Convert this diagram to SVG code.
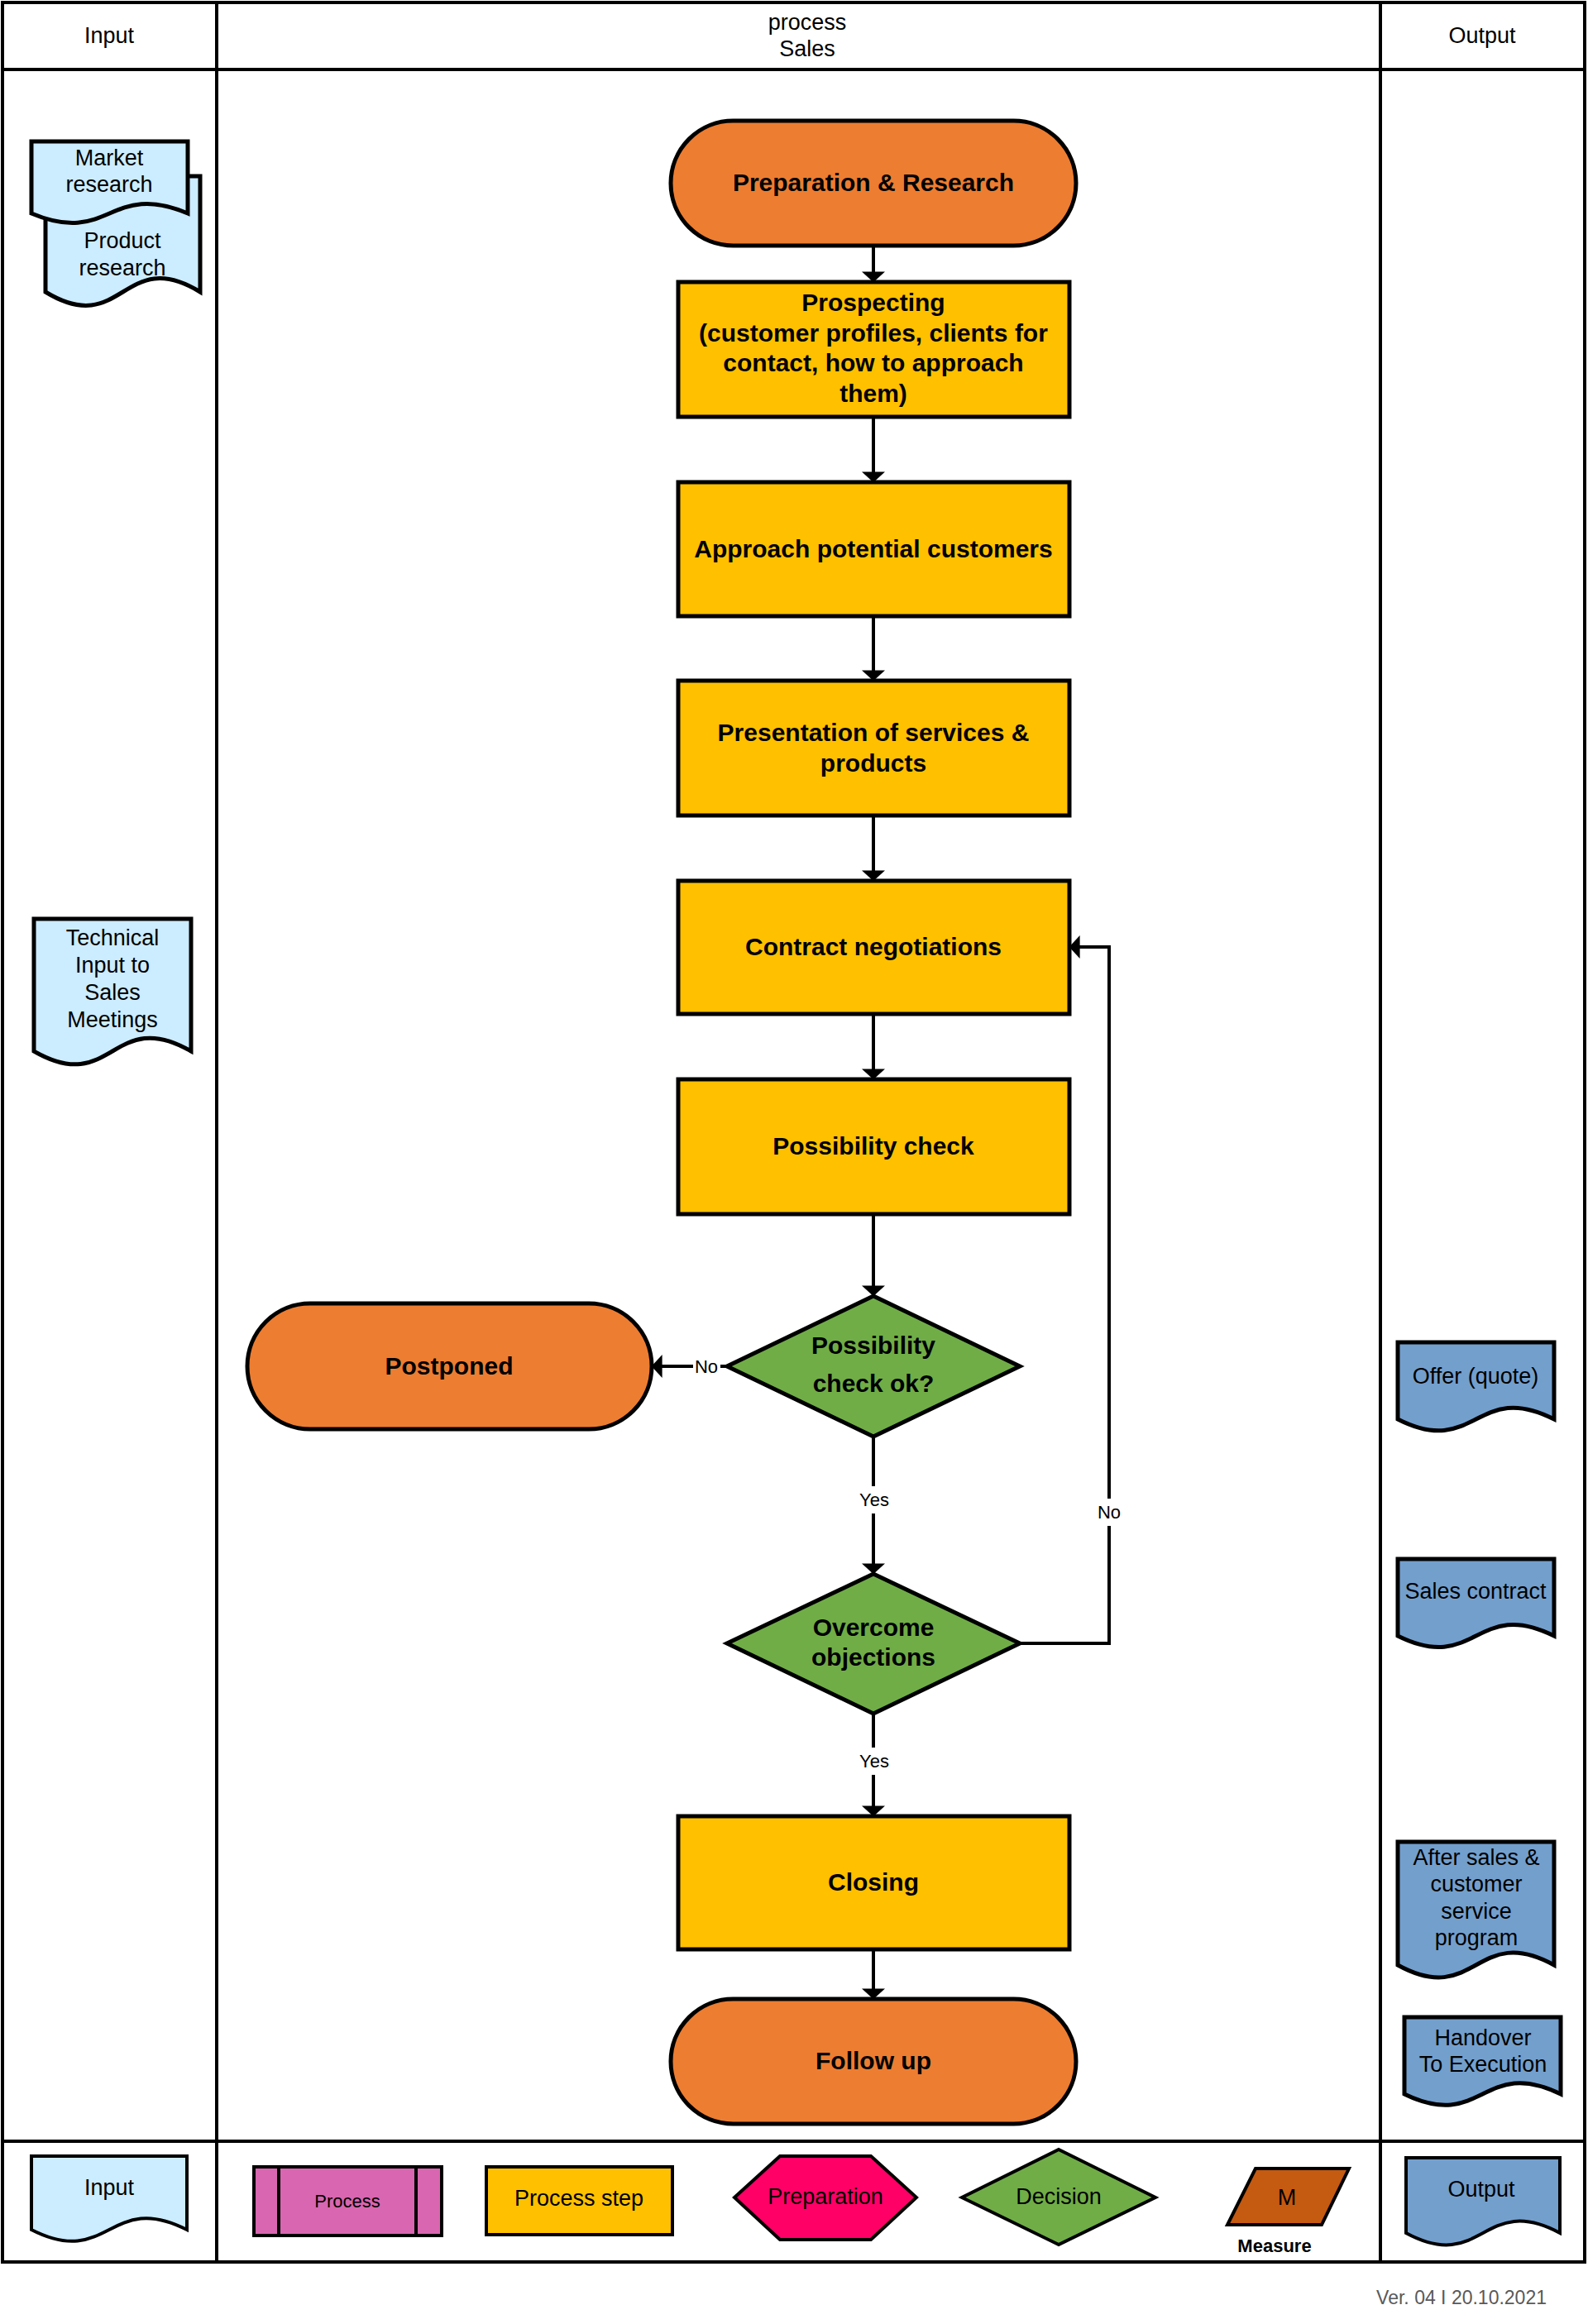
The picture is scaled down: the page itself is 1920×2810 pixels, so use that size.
<svg xmlns="http://www.w3.org/2000/svg" width="1920" height="2810" viewBox="0 0 1920 2810">
<style>
text{font-family:"Liberation Sans",Arial,sans-serif;fill:#000;text-anchor:middle}
.hd{font-size:27px}
.doc{font-size:27px}
.nb{font-size:30px;font-weight:bold}
.lbl{font-size:22px}
.lg{font-size:27px}
.ln{stroke:#000;stroke-width:4;fill:none}
.node{stroke:#000;stroke-width:5}
.lgs{stroke:#000;stroke-width:4}
.orange{fill:#ED7D31}
.yellow{fill:#FFC000}
.green{fill:#70AD47}
.inp{fill:#CCECFF}
.out{fill:#739FCD}
.grid{stroke:#000;stroke-width:4;fill:none}
</style>
<defs>
<marker id="arr" markerUnits="userSpaceOnUse" markerWidth="14" markerHeight="28" viewBox="0 0 12 26" refX="8" refY="13" orient="auto">
<path d="M0,0 L12,13 L0,26 Z" fill="#000"/>
</marker>
</defs>
<rect width="1920" height="2810" fill="#fff"/>
<g id="frame">
<rect class="grid" x="3" y="3" width="1913" height="2732"/>
<line class="grid" x1="262" y1="3" x2="262" y2="2735"/>
<line class="grid" x1="1669" y1="3" x2="1669" y2="2735"/>
<line class="grid" x1="3" y1="84" x2="1916" y2="84"/>
<line class="grid" x1="3" y1="2589" x2="1916" y2="2589"/>
<text class="hd" x="132" y="52">Input</text>
<text class="hd" x="976" y="36">process</text>
<text class="hd" x="976" y="68">Sales</text>
<text class="hd" x="1792" y="52">Output</text>
</g>
<g id="connectors">
<path class="ln" d="M1056,297 V337" marker-end="url(#arr)"/>
<path class="ln" d="M1056,504 V579" marker-end="url(#arr)"/>
<path class="ln" d="M1056,745 V819" marker-end="url(#arr)"/>
<path class="ln" d="M1056,986 V1061" marker-end="url(#arr)"/>
<path class="ln" d="M1056,1226 V1301" marker-end="url(#arr)"/>
<path class="ln" d="M1056,1468 V1563" marker-end="url(#arr)"/>
<path class="ln" d="M879,1652 H792" marker-end="url(#arr)"/>
<path class="ln" d="M1056,1737 V1899" marker-end="url(#arr)"/>
<path class="ln" d="M1233,1987 H1341 V1145 H1297" marker-end="url(#arr)"/>
<path class="ln" d="M1056,2072 V2192" marker-end="url(#arr)"/>
<path class="ln" d="M1056,2357 V2413" marker-end="url(#arr)"/>
<rect x="838" y="1638" width="33" height="28" fill="#fff"/>
<text class="lbl" x="854" y="1660">No</text>
<rect x="1036" y="1797" width="42" height="33" fill="#fff"/>
<text class="lbl" x="1057" y="1821">Yes</text>
<rect x="1325" y="1812" width="32" height="33" fill="#fff"/>
<text class="lbl" x="1341" y="1836">No</text>
<rect x="1036" y="2113" width="42" height="33" fill="#fff"/>
<text class="lbl" x="1057" y="2137">Yes</text>
</g>
<g id="n-prep-research">
<rect class="node orange" x="811" y="146" width="490" height="151" rx="75.5"/>
<text class="nb" x="1056" y="231">Preparation &amp; Research</text>
</g>
<g id="n-prospecting">
<rect class="node yellow" x="820" y="341" width="473" height="163"/>
<text class="nb" x="1056" y="376">Prospecting</text>
<text class="nb" x="1056" y="413">(customer profiles, clients for</text>
<text class="nb" x="1056" y="449">contact, how to approach</text>
<text class="nb" x="1056" y="486">them)</text>
</g>
<g id="n-approach">
<rect class="node yellow" x="820" y="583" width="473" height="162"/>
<text class="nb" x="1056" y="674">Approach potential customers</text>
</g>
<g id="n-presentation">
<rect class="node yellow" x="820" y="823" width="473" height="163"/>
<text class="nb" x="1056" y="896">Presentation of services &amp;</text>
<text class="nb" x="1056" y="933">products</text>
</g>
<g id="n-contract">
<rect class="node yellow" x="820" y="1065" width="473" height="161"/>
<text class="nb" x="1056" y="1155">Contract negotiations</text>
</g>
<g id="n-possibility">
<rect class="node yellow" x="820" y="1305" width="473" height="163"/>
<text class="nb" x="1056" y="1396">Possibility check</text>
</g>
<g id="n-check-ok">
<polygon class="node green" points="1056,1567 1233,1652 1056,1737 879,1652"/>
<text class="nb" x="1056" y="1637">Possibility</text>
<text class="nb" x="1056" y="1683">check ok?</text>
</g>
<g id="n-postponed">
<rect class="node orange" x="299" y="1576" width="489" height="152" rx="76"/>
<text class="nb" x="543" y="1662">Postponed</text>
</g>
<g id="n-overcome">
<polygon class="node green" points="1056,1903 1233,1987 1056,2072 879,1987"/>
<text class="nb" x="1056" y="1978">Overcome</text>
<text class="nb" x="1056" y="2014">objections</text>
</g>
<g id="n-closing">
<rect class="node yellow" x="820" y="2196" width="473" height="161"/>
<text class="nb" x="1056" y="2286">Closing</text>
</g>
<g id="n-followup">
<rect class="node orange" x="811" y="2417" width="490" height="151" rx="75.5"/>
<text class="nb" x="1056" y="2502">Follow up</text>
</g>
<g id="in-product">
<path class="node inp" d="M55,213 H242 V353 C148.5,296 148.5,410 55,353 Z"/>
<text class="doc" x="148" y="300">Product</text>
<text class="doc" x="148" y="333">research</text>
</g>
<g id="in-market">
<path class="node inp" d="M38,171 H227 V258 C132.5,218 132.5,298 38,258 Z"/>
<text class="doc" x="132" y="200">Market</text>
<text class="doc" x="132" y="232">research</text>
</g>
<g id="in-technical">
<path class="node inp" d="M41,1111 H231 V1271 C136,1216 136,1326 41,1271 Z"/>
<text class="doc" x="136" y="1143">Technical</text>
<text class="doc" x="136" y="1176">Input to</text>
<text class="doc" x="136" y="1209">Sales</text>
<text class="doc" x="136" y="1242">Meetings</text>
</g>
<g id="out-offer">
<path class="node out" d="M1690,1623 H1879 V1716 C1784.5,1668 1784.5,1764 1690,1716 Z"/>
<text class="doc" x="1784" y="1673">Offer (quote)</text>
</g>
<g id="out-contract">
<path class="node out" d="M1690,1885 H1879 V1978 C1784.5,1931 1784.5,2025 1690,1978 Z"/>
<text class="doc" x="1784" y="1933">Sales contract</text>
</g>
<g id="out-aftersales">
<path class="node out" d="M1690,2227 H1879 V2376 C1784.5,2324 1784.5,2428 1690,2376 Z"/>
<text class="doc" x="1785" y="2255">After sales &amp;</text>
<text class="doc" x="1785" y="2287">customer</text>
<text class="doc" x="1785" y="2320">service</text>
<text class="doc" x="1785" y="2352">program</text>
</g>
<g id="out-handover">
<path class="node out" d="M1698,2439 H1887 V2532 C1792.5,2486 1792.5,2578 1698,2532 Z"/>
<text class="doc" x="1793" y="2473">Handover</text>
<text class="doc" x="1793" y="2505">To Execution</text>
</g>
<g id="legend-input">
<path class="lgs inp" d="M38,2607 H226 V2696 C132,2648 132,2744 38,2696 Z"/>
<text class="lg" x="132" y="2654">Input</text>
</g>
<g id="legend-process">
<rect class="lgs" fill="#D966B0" x="307" y="2620" width="227" height="83"/>
<line class="lgs" x1="337" y1="2620" x2="337" y2="2703"/>
<line class="lgs" x1="503" y1="2620" x2="503" y2="2703"/>
<text class="lbl" x="420" y="2669">Process</text>
</g>
<g id="legend-step">
<rect class="lgs yellow" x="588" y="2620" width="225" height="82"/>
<text class="lg" x="700" y="2667">Process step</text>
</g>
<g id="legend-preparation">
<polygon class="lgs" fill="#FF0066" points="888,2657 943,2607 1053,2607 1108,2657 1053,2708 943,2708"/>
<text class="lg" x="998" y="2665">Preparation</text>
</g>
<g id="legend-decision">
<polygon class="lgs green" points="1280,2599 1397,2657 1280,2714 1163,2657"/>
<text class="lg" x="1280" y="2665">Decision</text>
</g>
<g id="legend-measure">
<polygon class="lgs" fill="#C55A11" points="1518,2622 1631,2622 1598,2690 1484,2690"/>
<text class="lg" x="1556" y="2666">M</text>
<text class="lbl" style="font-weight:bold" x="1541" y="2723">Measure</text>
</g>
<g id="legend-output">
<path class="lgs out" d="M1700,2609 H1886 V2700 C1793,2650 1793,2750 1700,2700 Z"/>
<text class="lg" x="1791" y="2656">Output</text>
</g>
<text x="1870" y="2786" style="font-size:23px;fill:#595959;text-anchor:end">Ver. 04 I 20.10.2021</text>
</svg>
